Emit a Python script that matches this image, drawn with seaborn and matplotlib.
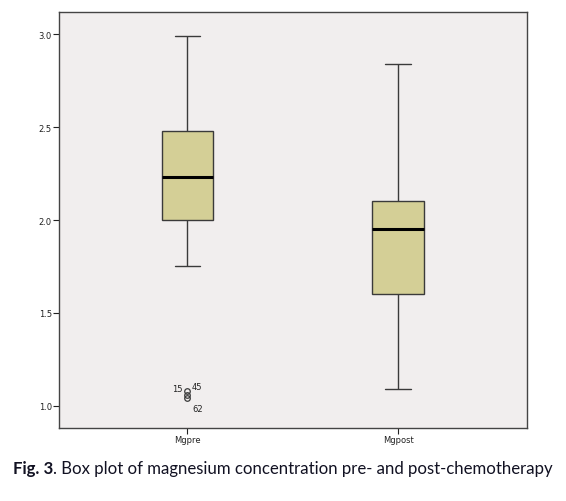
import matplotlib
matplotlib.use("Agg")
import matplotlib.pyplot as plt
import seaborn as sns
import pandas as pd

# Sample values (quartiles, whiskers, outliers)
mgpre = [1.04, 1.06, 1.08, 1.75, 2.0, 2.0, 2.0, 2.0, 2.23,
         2.48, 2.48, 2.48, 2.48, 2.48, 2.48, 2.48, 2.99]
mgpost = [1.09, 1.60, 1.60, 1.60, 1.95, 2.10, 2.10, 2.10, 2.84]
groups = ["Mgpre", "Mgpost"]
outlier_vals = [1.08, 1.06, 1.04]
outlier_ids = ["15", "45", "62"]
yticks = [1.0, 1.5, 2.0, 2.5, 3.0]

df = pd.DataFrame({
    "group": ["Mgpre"] * len(mgpre) + ["Mgpost"] * len(mgpost),
    "value": mgpre + mgpost,
})

sns.set_style("white")
fig = plt.figure(figsize=(5.66, 5.02), dpi=100)
ax = fig.add_axes([0.104, 0.1454, 0.827, 0.8286])
ax.set_facecolor("#f1eeee")

edge = "#3a3a3a"
sns.boxplot(data=df, x="group", y="value", order=groups, ax=ax,
            color="#d4cf96", saturation=1, width=0.246, linewidth=1,
            linecolor=edge,
            medianprops=dict(color="black", linewidth=2.2),
            flierprops=dict(marker="o", markerfacecolor="none",
                            markeredgecolor=edge, markersize=4, markeredgewidth=0.9))

ax.set_xlim(-0.61, 1.61)
ax.set_ylim(0.88, 3.12)
ax.set_yticks(yticks)
ax.set_yticklabels([f"{v:.1f}" for v in yticks])
ax.set_xlabel("")
ax.set_ylabel("")
ax.tick_params(axis="both", direction="out", length=4, width=0.8,
               labelsize=6, colors="#222222", left=True, bottom=True, pad=1)
for s in ax.spines.values():
    s.set_color("#444444")
    s.set_linewidth(1)

# outlier case numbers
offs = [(-7, 2), (7, 6), (7, -7)]
for val, lab, off in zip(outlier_vals, outlier_ids, offs):
    ax.annotate(lab, xy=(0, val), xytext=off, textcoords="offset points",
                ha="center", va="center", fontsize=6, color="#222222")

cap = "#111122"
t1 = fig.text(0.023, 0.056, "Fig. 3", fontsize=12.1, fontweight="bold",
              family="Lato", color=cap)
ax.annotate(". Box plot of magnesium concentration pre- and post-chemotherapy",
            xy=(1, 0), xycoords=t1, va="bottom", ha="left", fontsize=12.1,
            family="Lato", color=cap, annotation_clip=False)

fig.savefig("out.png", dpi=100)
